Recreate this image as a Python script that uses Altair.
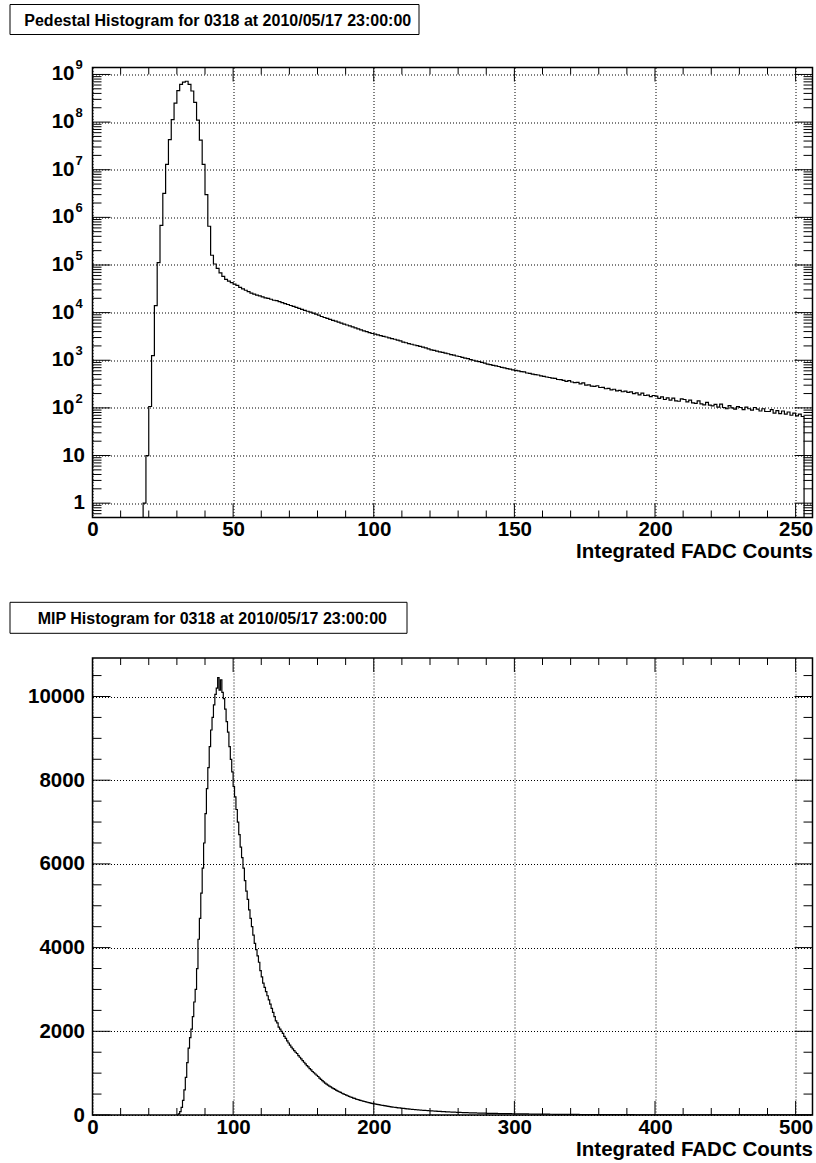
import altair as alt
import pandas as pd

FONT = "Liberation Sans"
LBL = 20.5

ped_title = "Pedestal Histogram for 0318 at 2010/05/17 23:00:00"
mip_title = "MIP Histogram for 0318 at 2010/05/17 23:00:00"
x_title = "Integrated FADC Counts"

# ---- Pedestal histogram: bins of width 1, first bin lower edge = 18 ----
ped_first_bin = 18
ped_counts = [
    1, 10, 107, 1250, 14000,
    112000, 680000, 3200000, 13000000, 43000000, 113000000, 250000000, 460000000, 620000000, 690000000,
    720000000, 620000000, 450000000, 260000000, 110000000, 42000000, 13000000, 3000000, 650000, 160000,
    105000, 85000, 68000, 57500, 50000, 45700, 42700,
    39800, 37200, 33900, 31600, 29500, 27500, 25700, 24500, 23400, 22400,
    21400, 20400, 20000, 19100, 18200, 17800, 17000, 16200, 15500, 14800,
    14100, 13500, 12900, 12300, 11700, 11200, 10700, 10200, 9800, 9300,
    8900, 8300, 7900, 7600, 7200, 6900, 6600, 6300, 6000, 5750,
    5500, 5250, 5000, 4800, 4550, 4350, 4150, 4000, 3800, 3650,
    3550, 3420, 3300, 3180, 3080, 2960, 2850, 2760, 2650, 2560,
    2400, 2330, 2240, 2170, 2090, 2020, 1950, 1880, 1820, 1740,
    1660, 1620, 1560, 1500, 1470, 1410, 1370, 1310, 1280, 1230,
    1200, 1150, 1110, 1080, 1030, 1000, 960, 940, 900, 870,
    830, 810, 780, 760, 740, 710, 690, 670, 650, 630,
    615, 600, 580, 570, 540, 530, 510, 500, 490, 470,
    460, 445, 435, 420, 415, 395, 392, 378, 360, 372,
    350, 338, 342, 318, 335, 300, 305, 286, 283, 292,
    268, 270, 252, 256, 240, 246, 228, 234, 218, 224,
    212, 216, 200, 206, 188, 204, 182, 186, 172, 182,
    176, 158, 170, 150, 162, 146, 160, 140, 138, 154,
    150, 134, 146, 128, 124, 140, 122, 116, 130, 114,
    110, 118, 104, 120, 102, 96, 112, 100, 94, 106,
    102, 92, 104, 96, 90, 102, 94, 86, 96, 84,
    84, 92, 78, 88, 76, 86, 74, 82, 70, 78,
    68, 74, 66,
]

# ---- MIP histogram: bins of width 1, first bin lower edge = 61 ----
mip_first_bin = 61
mip_counts = [
    30, 80, 180, 350, 600, 900, 1250, 1600, 1850,
    2050, 2350, 2700, 3000, 3500, 4200, 4700, 5300, 5900, 6500,
    7200, 7800, 8300, 8800, 9200, 9500, 9800, 10050, 10200, 10450,
    10150, 10400, 10100, 9950, 9700, 9400, 9150, 8800, 8500, 8200,
    7850, 7600, 7300, 7000, 6700, 6400, 6150, 5900, 5600, 5350,
    5150, 4900, 4700, 4500, 4300, 4100, 3950, 3800, 3650, 3450,
    3300, 3150, 3050, 2950, 2850, 2750, 2650, 2550, 2450, 2350,
    2250, 2200, 2100, 2050, 2000, 1950, 1880, 1830, 1770, 1720,
    1670, 1620, 1580, 1540, 1500, 1470, 1420, 1380, 1340, 1300,
    1260, 1220, 1180, 1150, 1110, 1080, 1040, 1010, 980, 950,
    920, 880, 850, 820, 790, 760, 740, 715, 690, 670,
    650, 630, 610, 590, 570, 555, 540, 520, 505, 490,
    475, 460, 445, 430, 420, 405, 395, 380, 370, 360,
    350, 340, 330, 322, 312, 305, 296, 288, 280, 274,
    268, 260, 252, 246, 240, 233, 228, 222, 216, 210,
    205, 200, 195, 190, 185, 180, 176, 172, 168, 164,
    160, 156, 152, 148, 145, 141, 138, 135, 132, 128,
    126, 123, 120, 117, 114, 112, 109, 107, 104, 102,
    100, 97, 95, 93, 91, 89, 87, 85, 83, 81,
    79, 77, 75, 74, 72, 70, 69, 67, 66, 64,
    63, 61, 60, 59, 57, 56, 55, 54, 53, 52,
    51, 50, 49, 48, 47, 46, 45, 44, 43, 43,
    42, 41, 40, 40, 39, 38, 37, 37, 36, 35,
    35, 34, 34, 33, 32, 32, 31, 31, 30, 30,
    29, 29, 28, 28, 27, 27, 26, 26, 25, 25,
    24, 24, 23, 23, 23, 22, 22, 21, 21, 21,
    20, 20, 19, 19, 19, 18, 18, 18, 17, 17,
    17, 16, 16, 16, 15, 15, 15, 15, 14, 14,
    14, 14, 13, 13, 13, 13, 12, 12, 12, 12,
    12, 11, 11, 11, 11, 11, 10, 10, 10, 10,
    10, 10, 9, 9, 9, 9, 9, 9, 8, 8,
    8, 8, 8, 8, 8, 8, 7, 7, 7, 7,
    7, 7, 7, 7, 7, 6, 6, 6, 6, 6,
    6, 6, 6, 6, 6, 6, 5, 5, 5, 5,
    5, 5, 5, 5, 5, 5, 5, 5, 5, 5,
    4, 4, 4, 4, 4, 4, 4, 4, 4, 4,
    4, 4, 4, 4, 4, 4, 4, 4, 4, 4,
    4, 4, 4, 4, 4, 4, 4, 4, 4, 4,
    4, 4, 4, 4, 4, 3, 3, 3, 3, 3,
    3, 3, 3, 3, 3, 3, 3, 3, 3, 3,
    3, 3, 3, 3, 3, 3, 3, 3, 3, 3,
    3, 3, 3, 3, 3, 3, 3, 3, 3, 3,
    3, 3, 3, 3, 3, 2, 2, 2, 2, 2,
    2, 2, 2, 2, 2, 2, 2, 2, 2, 2,
    2, 2, 2, 2, 2, 2, 2, 2, 2, 2,
    2, 2,
]

# ---- axes ----
ped_x_domain = [0, 256]
ped_y_domain = [0.5, 1.4e9]
ped_x_major = [0, 50, 100, 150, 200, 250]
ped_x_minor = [v for v in range(10, 256, 10) if v % 50 != 0]
ped_exponents = list(range(0, 10))
ped_y_major = [10.0 ** e for e in ped_exponents]
ped_y_minor = [k * 10.0 ** e for e in range(-1, 9) for k in range(2, 10)
               if ped_y_domain[0] < k * 10.0 ** e < ped_y_domain[1]]

mip_x_domain = [0, 512]
mip_y_domain = [0, 10920]
mip_x_major = [0, 100, 200, 300, 400, 500]
mip_x_minor = [v for v in range(20, 512, 20) if v % 100 != 0]
mip_y_major = [0, 2000, 4000, 6000, 8000, 10000]
mip_y_minor = [v for v in range(500, 10920, 500) if v % 2000 != 0]

W = 720
H1 = 450
H2 = 457
XMAJ, XMIN = 14, 7
YMAJ, YMIN = 18, 9


def step_frame(first, counts, floor):
    xs = [first] + [first + i for i in range(len(counts))] + [first + len(counts)]
    ys = [floor] + list(counts) + [floor]
    return pd.DataFrame({"x": xs, "y": ys, "i": list(range(len(xs)))})


def x_axis(values):
    return alt.Axis(values=values, grid=True, gridDash=[1, 2], gridColor="black", gridOpacity=1,
                    gridWidth=1, ticks=False, domain=False, labelFont=FONT, labelFontSize=LBL,
                    labelFontWeight="bold", labelColor="black", labelPadding=2, labelFlush=False,
                    labelOverlap=False, format="d", title=x_title, titleFont=FONT,
                    titleFontSize=LBL, titleFontWeight="bold", titleColor="black",
                    titleAnchor="end", titleAlign="right", titleX=W, titleY=40,
                    titleBaseline="alphabetic")


def tick_layers(xvals_major, xvals_minor, yvals_major, yvals_minor, xs, ys, H):
    layers = []
    for vals, ln in ((xvals_major, XMAJ), (xvals_minor, XMIN)):
        df = pd.DataFrame({"x": vals})
        base = alt.Chart(df).mark_rule(color="black", strokeWidth=1)
        layers.append(base.encode(x=alt.X("x:Q", scale=xs),
                                  y=alt.value(H), y2=alt.value(H - ln)))
        layers.append(base.encode(x=alt.X("x:Q", scale=xs),
                                  y=alt.value(0), y2=alt.value(ln)))
    for vals, ln in ((yvals_major, YMAJ), (yvals_minor, YMIN)):
        df = pd.DataFrame({"y": vals})
        base = alt.Chart(df).mark_rule(color="black", strokeWidth=1)
        layers.append(base.encode(y=alt.Y("y:Q", scale=ys),
                                  x=alt.value(0), x2=alt.value(ln)))
        layers.append(base.encode(y=alt.Y("y:Q", scale=ys),
                                  x=alt.value(W), x2=alt.value(W - ln)))
    return layers


def title_layers(text, x1, x2, y1, y2, tx):
    df = pd.DataFrame({"t": [text]})
    box = alt.Chart(df).mark_rect(fill="white", stroke="black", strokeWidth=1).encode(
        x=alt.value(x1), x2=alt.value(x2), y=alt.value(y1), y2=alt.value(y2))
    txt = alt.Chart(df).mark_text(align="left", baseline="middle", font=FONT, fontSize=16,
                                  fontWeight="bold", color="black").encode(
        x=alt.value(tx), y=alt.value((y1 + y2) / 2 + 1), text="t:N")
    return [box, txt]


# ---------------- top panel ----------------
xs1 = alt.Scale(domain=ped_x_domain, nice=False, zero=False)
ys1 = alt.Scale(type="log", domain=ped_y_domain, nice=False)

ped_df = step_frame(ped_first_bin, ped_counts, ped_y_domain[0])
ped_hist = alt.Chart(ped_df).mark_line(interpolate="step-after", color="black",
                                       strokeWidth=1.2, clip=True).encode(
    x=alt.X("x:Q", scale=xs1, axis=x_axis(ped_x_major)),
    y=alt.Y("y:Q", scale=ys1,
            axis=alt.Axis(values=ped_y_major, grid=True, gridDash=[1, 2],
                          gridColor="black", gridOpacity=1, gridWidth=1, ticks=False,
                          domain=False, labels=False, title=None)),
    order="i:Q",
)

lab_small = pd.DataFrame({"y": [10.0 ** e for e in ped_exponents if e < 2],
                          "t": [str(10 ** e) for e in ped_exponents if e < 2]})
lab_big = pd.DataFrame({"y": [10.0 ** e for e in ped_exponents if e >= 2],
                        "t": ["10" for e in ped_exponents if e >= 2],
                        "s": [str(e) for e in ped_exponents if e >= 2]})
txt_style = dict(font=FONT, fontWeight="bold", color="black", baseline="middle")
ylab1 = alt.Chart(lab_small).mark_text(align="right", fontSize=LBL, **txt_style).encode(
    y=alt.Y("y:Q", scale=ys1), x=alt.value(-7.5), text="t:N")
ylab2 = alt.Chart(lab_big).mark_text(align="right", fontSize=LBL, **txt_style).encode(
    y=alt.Y("y:Q", scale=ys1), x=alt.value(-18), text="t:N")
ylab3 = alt.Chart(lab_big).mark_text(align="left", fontSize=13, dy=-9, **txt_style).encode(
    y=alt.Y("y:Q", scale=ys1), x=alt.value(-17), text="s:N")

top = alt.layer(
    ped_hist,
    *tick_layers(ped_x_major, ped_x_minor, ped_y_major, ped_y_minor, xs1, ys1, H1),
    ylab1, ylab2, ylab3,
    *title_layers(ped_title, -82.5, 326.5, -63, -33, -68.2),
).properties(width=W, height=H1)

# ---------------- bottom panel ----------------
xs2 = alt.Scale(domain=mip_x_domain, nice=False, zero=False)
ys2 = alt.Scale(domain=mip_y_domain, nice=False, zero=False)

mip_df = step_frame(mip_first_bin, mip_counts, 0)
mip_hist = alt.Chart(mip_df).mark_line(interpolate="step-after", color="black",
                                       strokeWidth=1.2, clip=True).encode(
    x=alt.X("x:Q", scale=xs2, axis=x_axis(mip_x_major)),
    y=alt.Y("y:Q", scale=ys2,
            axis=alt.Axis(values=mip_y_major, grid=True, gridDash=[1, 2], gridColor="black",
                          gridOpacity=1, gridWidth=1, ticks=False, domain=False,
                          labelFont=FONT, labelFontSize=LBL, labelFontWeight="bold",
                          labelColor="black", labelPadding=8, labelFlush=False,
                          labelOverlap=False, format="d", title=None)),
    order="i:Q",
)

bottom = alt.layer(
    mip_hist,
    *tick_layers(mip_x_major, mip_x_minor, mip_y_major, mip_y_minor, xs2, ys2, H2),
    *title_layers(mip_title, -82.5, 314.5, -55.7, -24.7, -54.8),
).properties(width=W, height=H2)

chart = alt.vconcat(top, bottom, spacing=37.5).properties(
    padding={"left": 8.5, "top": 2.5, "right": 0, "bottom": 0},
    background="white",
).configure_view(stroke="black", strokeWidth=1.5)

chart.save("out.html", embed_options={"renderer": "svg", "actions": False})
